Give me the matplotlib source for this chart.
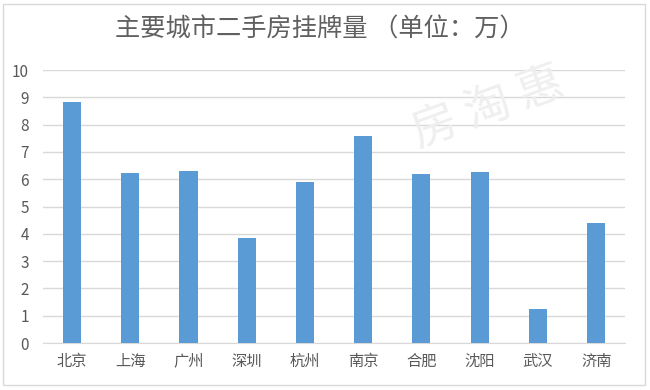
import matplotlib
matplotlib.use("Agg")
import matplotlib.pyplot as plt
from matplotlib.patches import Rectangle

plt.rcParams['font.family'] = ['Noto Sans CJK SC', 'DejaVu Sans']

cities = ['北京', '上海', '广州', '深圳', '杭州', '南京', '合肥', '沈阳', '武汉', '济南']
listings = [8.84, 6.22, 6.31, 3.83, 5.90, 7.60, 6.19, 6.28, 1.25, 4.39]
yticks = [0, 1, 2, 3, 4, 5, 6, 7, 8, 9, 10]
title = '主要城市二手房挂牌量 （单位：万）'

fig = plt.figure(figsize=(6.5, 3.9), dpi=100)
fig.patch.set_facecolor('white')

# outer frame of the chart
fig.patches.append(Rectangle((0.005, 0.012), 0.988, 0.978, transform=fig.transFigure,
                             fill=False, edgecolor='#d9d9d9', linewidth=1.0))

ax = fig.add_axes([0.066, 0.1205, 0.896, 0.70])
x = range(len(cities))
ax.bar(x, listings, width=0.31, color='#5b9bd5', zorder=3)

ax.set_ylim(0, 10)
ax.set_xlim(-0.5, len(cities) - 0.5)
ax.set_yticks(yticks)
ax.set_yticklabels([str(v) for v in yticks])
ax.set_xticks(list(x))
ax.set_xticklabels(cities)
ax.grid(axis='y', color='#d9d9d9', linewidth=1.0, zorder=0)
for s in ['top', 'right', 'left']:
    ax.spines[s].set_visible(False)
ax.spines['bottom'].set_color('#d9d9d9')
ax.tick_params(axis='both', length=0, colors='#595959', labelsize=11)
ax.tick_params(axis='x', pad=7)
ax.tick_params(axis='y', pad=10)

fig.text(0.492, 0.925, title, ha='center', va='center', fontsize=18.2,
         color='#606060', fontweight='light')

# watermark
fig.text(0.751, 0.722, '房 淘 惠', ha='center', va='center', fontsize=33,
         color='#efefef', rotation=20, fontweight='light', zorder=0)

fig.savefig('out.png', dpi=100)
